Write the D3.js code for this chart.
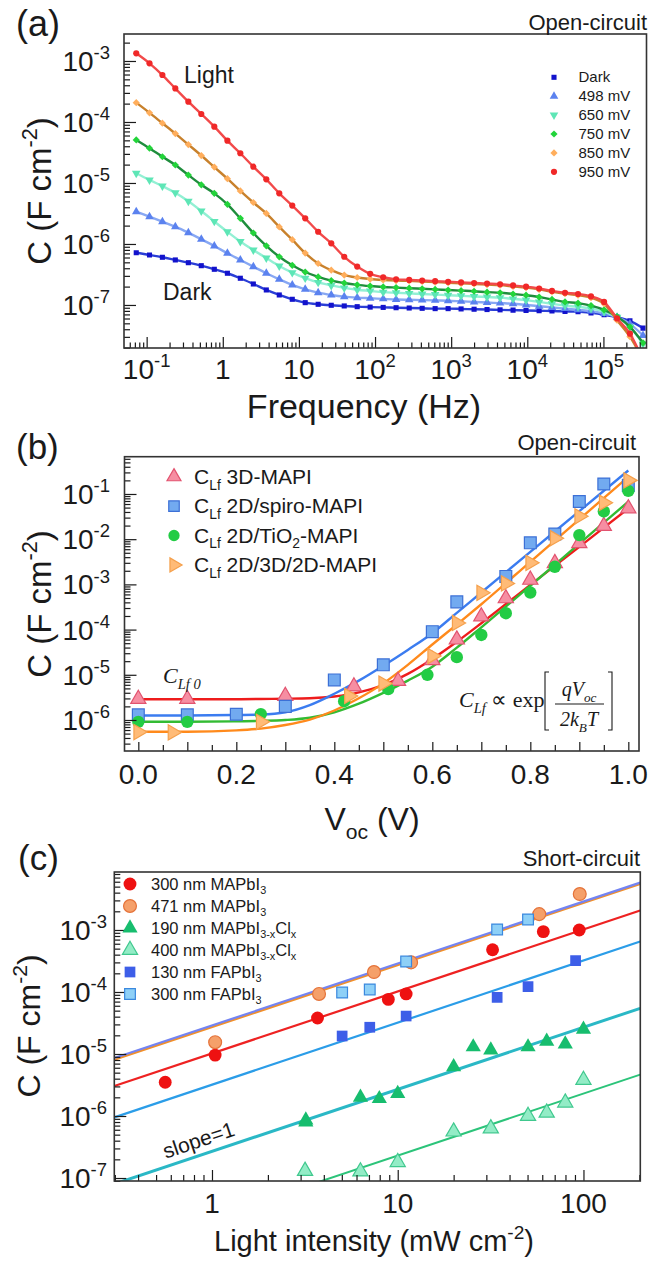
<!DOCTYPE html>
<html>
<head>
<meta charset="utf-8">
<script src="https://cdn.jsdelivr.net/npm/d3@7"></script>
<style>
  body { margin: 0; background: #fff; }
  svg { display: block; }
</style>
</head>
<body>
<svg id="chart" width="648" height="1263"></svg>
<script>
// ---------- panel (a): capacitance spectra, open circuit ----------
const freqHz = [0.073, 0.109, 0.161, 0.238, 0.353, 0.522, 0.774, 1.15, 1.70, 2.52,
  3.73, 5.52, 8.18, 12.1, 17.9, 26.6, 39.4, 58.3, 86.3, 128,
  189, 281, 416, 616, 912, 1350, 2000, 2960, 4390, 6500,
  9630, 14300, 21100, 31300, 46400, 68700, 102000, 151000, 223000, 331000];

// log10 of C (F cm-2)
const logC_dark = [-6.143, -6.180, -6.218, -6.262, -6.307, -6.356, -6.415, -6.480, -6.562, -6.656,
  -6.754, -6.836, -6.907, -6.962, -6.989, -7.005, -7.016, -7.028, -7.035, -7.040,
  -7.045, -7.050, -7.055, -7.060, -7.060, -7.065, -7.070, -7.075, -7.080, -7.085,
  -7.090, -7.095, -7.100, -7.105, -7.110, -7.130, -7.160, -7.200, -7.260, -7.380];
const logC_498 = [-5.470, -5.552, -5.634, -5.716, -5.815, -5.923, -6.033, -6.153, -6.262, -6.372,
  -6.480, -6.579, -6.672, -6.743, -6.798, -6.836, -6.864, -6.880, -6.890, -6.900,
  -6.910, -6.915, -6.920, -6.925, -6.930, -6.940, -6.950, -6.960, -6.970, -6.980,
  -7.000, -7.020, -7.040, -7.060, -7.080, -7.100, -7.140, -7.200, -7.310, -7.500];
const logC_650 = [-4.841, -4.950, -5.050, -5.160, -5.300, -5.460, -5.630, -5.800, -5.960, -6.100,
  -6.230, -6.360, -6.470, -6.560, -6.630, -6.680, -6.720, -6.750, -6.770, -6.790,
  -6.800, -6.810, -6.820, -6.830, -6.840, -6.850, -6.860, -6.870, -6.880, -6.900,
  -6.920, -6.950, -6.980, -7.010, -7.030, -7.060, -7.110, -7.200, -7.360, -7.640];
const logC_750 = [-4.295, -4.430, -4.570, -4.705, -4.870, -5.030, -5.170, -5.350, -5.580, -5.820,
  -6.030, -6.210, -6.350, -6.460, -6.540, -6.600, -6.640, -6.670, -6.690, -6.705,
  -6.715, -6.725, -6.735, -6.745, -6.755, -6.765, -6.775, -6.790, -6.800, -6.820,
  -6.840, -6.870, -6.910, -6.950, -6.970, -7.010, -7.080, -7.190, -7.360, -7.620];
const logC_850 = [-3.683, -3.850, -4.020, -4.190, -4.370, -4.550, -4.740, -4.930, -5.130, -5.320,
  -5.500, -5.720, -5.930, -6.150, -6.320, -6.430, -6.510, -6.550, -6.575, -6.590,
  -6.600, -6.605, -6.615, -6.625, -6.635, -6.645, -6.655, -6.665, -6.675, -6.695,
  -6.715, -6.745, -6.785, -6.815, -6.840, -6.880, -6.980, -7.250, -7.520, -7.900];
const logC_950 = [-2.874, -3.038, -3.230, -3.450, -3.667, -3.869, -4.077, -4.307, -4.513, -4.733,
  -4.940, -5.169, -5.370, -5.579, -5.800, -5.990, -6.210, -6.370, -6.490, -6.546,
  -6.580, -6.590, -6.600, -6.610, -6.620, -6.630, -6.640, -6.650, -6.660, -6.680,
  -6.700, -6.730, -6.770, -6.800, -6.820, -6.860, -6.950, -7.220, -7.470, -7.900];
const labelsA = ['Dark', '498 mV', '650 mV', '750 mV', '850 mV', '950 mV'];
const ticksA_x = [-1, 0, 1, 2, 3, 4, 5];     // decades
const ticksA_y = [-3, -4, -5, -6, -7];

// ---------- panel (b): low-frequency C vs Voc ----------
const vRed = [0, 0.1, 0.3, 0.44, 0.53, 0.6, 0.65, 0.7, 0.75, 0.8, 0.85, 0.9, 0.95, 1.0];
const cRed = [2.9e-6, 2.9e-6, 3.4e-6, 5.5e-6, 7.3e-6, 2.1e-5, 6.0e-5, 1.95e-4, 4.9e-4, 1.26e-3, 2.95e-3, 8.1e-3, 1.95e-2, 4.8e-2];
const vBlue = [0, 0.1, 0.2, 0.3, 0.4, 0.5, 0.6, 0.65, 0.75, 0.8, 0.85, 0.9, 0.95, 1.0];
const cBlue = [1.3e-6, 1.3e-6, 1.34e-6, 2.0e-6, 7.7e-6, 1.66e-5, 9.0e-5, 4.1e-4, 1.5e-3, 8.3e-3, 1.3e-2, 6.8e-2, 1.66e-1, 1.55e-1];
const vGreen = [0, 0.1, 0.25, 0.42, 0.51, 0.59, 0.65, 0.7, 0.75, 0.8, 0.85, 0.9, 0.95, 1.0];
const cGreen = [9.1e-7, 9.1e-7, 1.35e-6, 2.6e-6, 4.8e-6, 1.0e-5, 2.45e-5, 7.6e-5, 2.3e-4, 6.6e-4, 2.45e-3, 1.23e-2, 4.1e-2, 1.17e-1];
const vOrange = [0, 0.07, 0.25, 0.43, 0.5, 0.6, 0.65, 0.7, 0.75, 0.8, 0.85, 0.9, 0.95, 1.0];
const cOrange = [5.4e-7, 5.3e-7, 9.1e-7, 3.4e-6, 6.4e-6, 2.6e-5, 1.4e-4, 6.5e-4, 1.05e-3, 3.0e-3, 1.05e-2, 3.2e-2, 6.4e-2, 2.0e-1];
// fitted curves, log10 C read at these voltages
const vFit = [0, 0.1, 0.2, 0.25, 0.3, 0.35, 0.4, 0.45, 0.5, 0.55, 0.6, 0.65, 0.7, 0.8, 0.9, 1.0];
const logFitRed = [-5.54, -5.54, -5.54, -5.535, -5.53, -5.52, -5.48, -5.39, -5.23, -4.98, -4.65, -4.27, -3.86, -3.01, -2.17, -1.32];
const logFitBlue = [-5.90, -5.90, -5.89, -5.88, -5.83, -5.67, -5.42, -5.13, -4.80, -4.45, -4.08, -3.63, -3.18, -2.28, -1.38, -0.48];
const logFitGreen = [-6.04, -6.04, -6.03, -6.02, -6.00, -5.95, -5.83, -5.64, -5.40, -5.13, -4.82, -4.40, -3.95, -3.03, -2.10, -1.17];
const logFitOrange = [-6.26, -6.26, -6.23, -6.19, -6.11, -5.99, -5.79, -5.52, -5.19, -4.78, -4.33, -3.89, -3.44, -2.50, -1.56, -0.62];
const ticksB_x = [0, 0.2, 0.4, 0.6, 0.8, 1.0];
const ticksB_y = [-1, -2, -3, -4, -5, -6];

// ---------- panel (c): C vs light intensity, short circuit ----------
const L300MA = [0.56, 1.04, 3.7, 8.9, 11.1, 32.4, 60.8, 94.9];
const C300MA = [3.5e-6, 9.6e-6, 3.8e-5, 7.6e-5, 9.3e-5, 4.8e-4, 9.4e-4, 1.0e-3];
const L471MA = [1.04, 3.77, 7.45, 11.8, 57.8, 95.5];
const C471MA = [1.55e-5, 9.3e-5, 2.1e-4, 3.0e-4, 1.8e-3, 3.8e-3];
const L190MC = [3.2, 3.2, 6.3, 7.96, 10, 20, 25.5, 31.7, 50.3, 63.4, 79.8, 100];
const C190MC = [8.6e-7, 8.0e-7, 2.0e-6, 1.9e-6, 2.3e-6, 6.2e-6, 1.3e-5, 1.16e-5, 1.3e-5, 1.6e-5, 1.45e-5, 2.5e-5];
const L400MC = [3.17, 6.3, 10, 20, 31.7, 50.3, 63.4, 79.8, 100];
const C400MC = [1.3e-7, 1.27e-7, 1.8e-7, 5.6e-7, 6.3e-7, 1.0e-6, 1.13e-6, 1.64e-6, 3.8e-6];
const L130FA = [5.02, 7.07, 11.1, 34.3, 50.3, 90.7];
const C130FA = [1.95e-5, 2.7e-5, 4.1e-5, 8.2e-5, 1.22e-4, 3.2e-4];
const L300FA = [5.02, 7.07, 11.1, 34.3, 50.3];
const C300FA = [9.8e-5, 1.1e-4, 3.1e-4, 1.02e-3, 1.48e-3];
// slope = 1 fit lines, end points [L, C]
const fit300MA = [[0.298, 3.04e-6], [202, 2.06e-3]];
const fit471MA = [[0.298, 8.1e-6], [202, 5.5e-3]];
const fit300FA = [[0.298, 8.6e-6], [202, 5.8e-3]];
const fit130FA = [[0.298, 9.5e-7], [202, 6.5e-4]];
const fit190MC = [[0.298, 8.0e-8], [202, 5.45e-5]];
const fit400MC = [[3.0, 6.9e-8], [202, 4.65e-6]];
const ticksC_x = [1, 10, 100];
const ticksC_y = [-3, -4, -5, -6, -7];

// ---------------------------------------------------------------
const SANS = '"Liberation Sans", Arial, Helvetica, sans-serif';
const SERIF = '"Liberation Serif", "Times New Roman", serif';
const INK = '#1a1a1a';
const svg = d3.select('#chart');
const defs = svg.append('defs');

// text with sub / superscripts
function rich(g, x, y, parts, o) {
  const size = o.size;
  const t = g.append('text')
    .attr('x', x).attr('y', y)
    .attr('font-family', o.family || SANS)
    .attr('font-size', size)
    .attr('text-anchor', o.anchor || 'start')
    .attr('fill', INK);
  if (o.italic) t.attr('font-style', 'italic');
  if (o.transform) t.attr('transform', o.transform);
  let shift = 0;
  parts.forEach(p => {
    const [s, kind, style] = Array.isArray(p) ? p : [p];
    const off = kind === 'sup' ? -0.42 * size : kind === 'sub' ? 0.28 * size : 0;
    const ts = t.append('tspan').attr('dy', off - shift).text(s);
    if (kind) ts.attr('font-size', size * 0.66);
    if (style) ts.attr('font-style', style);
    shift = off;
  });
  return t;
}

function logValues(scale) {
  const d = scale.domain();
  const lo = Math.min(d[0], d[1]), hi = Math.max(d[0], d[1]);
  const major = [], minor = [];
  for (let e = Math.floor(Math.log10(lo)); e <= Math.ceil(Math.log10(hi)); e++) {
    for (let k = 1; k <= 9; k++) {
      const v = k * Math.pow(10, e);
      if (v >= lo && v <= hi) (k === 1 ? major : minor).push(v);
    }
  }
  return { major, minor };
}

function tickSet(g, axisFn, scale, values, size, tr) {
  g.append('g').attr('transform', tr)
    .call(axisFn(scale).tickValues(values).tickSize(size).tickFormat(''))
    .call(a => a.select('.domain').remove())
    .selectAll('line').attr('stroke', INK).attr('stroke-width', 1.2);
}

function frame(g, P) {
  g.append('rect')
    .attr('x', P.x0).attr('y', P.y0)
    .attr('width', P.x1 - P.x0).attr('height', P.y1 - P.y0)
    .attr('fill', 'none').attr('stroke', '#333').attr('stroke-width', 1.6);
}

function clip(id, P) {
  defs.append('clipPath').attr('id', id).append('rect')
    .attr('x', P.x0).attr('y', P.y0).attr('width', P.x1 - P.x0).attr('height', P.y1 - P.y0);
  return 'url(#' + id + ')';
}

function marker(type, size, rot) {
  const path = d3.symbol().type(type).size(size)();
  return { path, rot: rot || 0 };
}

function drawMarks(g, pts, x, y, m, fill, stroke, sw) {
  g.append('g').selectAll('path').data(pts).join('path')
    .attr('d', m.path)
    .attr('transform', d => `translate(${x(d[0])},${y(d[1])}) rotate(${m.rot})`)
    .attr('fill', fill)
    .attr('stroke', stroke || 'none')
    .attr('stroke-width', sw || 0);
}

const decadeParts = e => e === 0 ? ['1'] : e === 1 ? ['10'] : ['10', [String(e), 'sup']];

// =============================== (a) ===============================
{
  const P = { x0: 124, x1: 646.5, y0: 34, y1: 348 };
  const x = d3.scaleLog().domain([0.0504, 3.68e5]).range([P.x0, P.x1]);
  const y = d3.scaleLog().domain([1.97e-8, 2.77e-3]).range([P.y1, P.y0]);
  const g = svg.append('g');

  const series = [
    { vals: logC_dark, fill: '#1212cc', line: '#2a3ed6', m: marker(d3.symbolSquare, 26) },
    { vals: logC_498, fill: '#5b82ef', line: '#88a8f3', m: marker(d3.symbolTriangle, 32) },
    { vals: logC_650, fill: '#5ee6b6', line: '#93f0d4', m: marker(d3.symbolTriangle, 32, 180) },
    { vals: logC_750, fill: '#22d43a', line: '#1f8d3d', m: marker(d3.symbolSquare, 26, 45) },
    { vals: logC_850, fill: '#ffae5c', line: '#c8812c', m: marker(d3.symbolSquare, 26, 45) },
    { vals: logC_950, fill: '#f02828', line: '#f24a4a', m: marker(d3.symbolCircle, 30) }
  ];

  const plot = g.append('g').attr('clip-path', clip('clipA', P));
  const line = d3.line().x(d => x(d[0])).y(d => y(d[1])).curve(d3.curveMonotoneX);
  series.forEach(s => {
    const pts = freqHz.map((f, i) => [f, Math.pow(10, s.vals[i])]);
    plot.append('path').datum(pts).attr('d', line)
      .attr('fill', 'none').attr('stroke', s.line).attr('stroke-width', 2.4);
    drawMarks(plot, pts, x, y, s.m, s.fill);
  });

  const ly = logValues(y), lx = logValues(x);
  tickSet(g, d3.axisLeft, y, ly.major, -12, `translate(${P.x0},0)`);
  tickSet(g, d3.axisLeft, y, ly.minor, -6, `translate(${P.x0},0)`);
  tickSet(g, d3.axisBottom, x, lx.major, -11, `translate(0,${P.y1})`);
  tickSet(g, d3.axisBottom, x, lx.minor, -5.5, `translate(0,${P.y1})`);
  frame(g, P);

  ticksA_y.forEach(e => rich(g, 110, y(Math.pow(10, e)) + 10, decadeParts(e), { size: 28, anchor: 'end' }));
  ticksA_x.forEach(e => rich(g, x(Math.pow(10, e)), 379, decadeParts(e), { size: 28, anchor: 'middle' }));

  rich(g, 0, 0, ['C (F cm', ['-2', 'sup'], ')'], { size: 33, anchor: 'middle', transform: 'translate(51,191) rotate(-90)' });
  rich(g, 364, 418, ['Frequency (Hz)'], { size: 34, anchor: 'middle' });
  rich(g, 16, 36, ['(a)'], { size: 36 });
  rich(g, 647, 30, ['Open-circuit'], { size: 22, anchor: 'end' });
  rich(g, 184, 83, ['Light'], { size: 23 });
  rich(g, 163, 300, ['Dark'], { size: 23 });

  // legend
  series.forEach((s, i) => {
    const ry = 77.3 + i * 18.9;
    g.append('path').attr('d', s.m.path)
      .attr('transform', `translate(554,${ry}) rotate(${s.m.rot})`).attr('fill', s.fill);
    rich(g, 578.5, ry + 5, [labelsA[i]], { size: 15 });
  });
}

// =============================== (b) ===============================
{
  const P = { x0: 124.5, x1: 639, y0: 456.7, y1: 751 };
  const x = d3.scaleLinear().domain([-0.0282, 1.0218]).range([P.x0, P.x1]);
  const y = d3.scaleLog().domain([2.06e-7, 0.668]).range([P.y1, P.y0]);
  const g = svg.append('g');
  const plot = g.append('g').attr('clip-path', clip('clipB', P));
  const line = d3.line().x(d => x(d[0])).y(d => y(d[1])).curve(d3.curveMonotoneX);

  const series = [
    { v: vRed, c: cRed, fit: logFitRed, line: '#ee1c1c', fill: '#f68ea2', stroke: '#e2536f', m: marker(d3.symbolTriangle, 100), lm: marker(d3.symbolTriangle, 85),
      label: ['C', ['Lf', 'sub'], ' 3D-MAPI'] },
    { v: vBlue, c: cBlue, fit: logFitBlue, line: '#3b7cf0', fill: '#72aaf0', stroke: '#3c70d6', m: marker(d3.symbolSquare, 140), lm: marker(d3.symbolSquare, 110),
      label: ['C', ['Lf', 'sub'], ' 2D/spiro-MAPI'] },
    { v: vGreen, c: cGreen, fit: logFitGreen, line: '#33bb33', fill: '#22cc44', stroke: null, m: marker(d3.symbolCircle, 120), lm: marker(d3.symbolCircle, 100),
      label: ['C', ['Lf', 'sub'], ' 2D/TiO', ['2', 'sub'], '-MAPI'] },
    { v: vOrange, c: cOrange, fit: logFitOrange, line: '#ff8a1c', fill: '#ffbb77', stroke: '#f5a04c', m: marker(d3.symbolTriangle, 100, 90), lm: marker(d3.symbolTriangle, 85, 90),
      label: ['C', ['Lf', 'sub'], ' 2D/3D/2D-MAPI'] }
  ];

  series.forEach(s => {
    const pts = vFit.map((v, i) => [v, Math.pow(10, s.fit[i])]);
    plot.append('path').datum(pts).attr('d', line)
      .attr('fill', 'none').attr('stroke', s.line).attr('stroke-width', 2.4);
  });
  series.forEach(s => {
    const pts = s.v.map((v, i) => [v, s.c[i]]);
    drawMarks(plot, pts, x, y, s.m, s.fill, s.stroke, 1.2);
  });

  const ly = logValues(y);
  const xMajor = d3.range(0, 1.001, 0.1).map(v => +v.toFixed(2));
  const xMinor = d3.range(0.05, 1.001, 0.1).map(v => +v.toFixed(2));
  tickSet(g, d3.axisLeft, y, ly.major, -12, `translate(${P.x0},0)`);
  tickSet(g, d3.axisLeft, y, ly.minor, -6, `translate(${P.x0},0)`);
  tickSet(g, d3.axisBottom, x, xMajor, -9, `translate(0,${P.y1})`);
  tickSet(g, d3.axisBottom, x, xMinor, -6, `translate(0,${P.y1})`);
  frame(g, P);

  ticksB_y.forEach(e => rich(g, 110, y(Math.pow(10, e)) + 10, decadeParts(e), { size: 28, anchor: 'end' }));
  ticksB_x.forEach(v => rich(g, x(v), 784, [v.toFixed(1)], { size: 28, anchor: 'middle' }));

  rich(g, 0, 0, ['C (F cm', ['-2', 'sup'], ')'], { size: 33, anchor: 'middle', transform: 'translate(51,604) rotate(-90)' });
  rich(g, 372, 830, ['V', ['oc', 'sub'], ' (V)'], { size: 32, anchor: 'middle' });
  rich(g, 16, 459, ['(b)'], { size: 35 });
  rich(g, 636, 450, ['Open-circuit'], { size: 22, anchor: 'end' });

  series.forEach((s, i) => {
    const ry = 476.7 + i * 29.4;
    g.append('path').attr('d', s.lm.path)
      .attr('transform', `translate(174,${ry}) rotate(${s.lm.rot})`)
      .attr('fill', s.fill).attr('stroke', s.stroke || 'none').attr('stroke-width', 1.2);
    rich(g, 194, ry + 7, s.label, { size: 21 });
  });

  // annotations
  rich(g, 163, 683, ['C', ['Lf 0', 'sub']], { size: 22, family: SERIF, italic: true });
  rich(g, 459, 707, ['C', ['Lf', 'sub'], [' \u221D exp', null, 'normal']], { size: 22, family: SERIF, italic: true });
  const br = d3.path();
  br.moveTo(549, 672); br.lineTo(545, 672); br.lineTo(545, 730); br.lineTo(549, 730);
  br.moveTo(608, 672); br.lineTo(612, 672); br.lineTo(612, 730); br.lineTo(608, 730);
  br.moveTo(555, 704); br.lineTo(604, 704);
  g.append('path').attr('d', br.toString()).attr('fill', 'none').attr('stroke', INK).attr('stroke-width', 1.1);
  rich(g, 579, 696, ['qV', ['oc', 'sub']], { size: 20, family: SERIF, italic: true, anchor: 'middle' });
  rich(g, 579, 726, ['2k', ['B', 'sub'], 'T'], { size: 20, family: SERIF, italic: true, anchor: 'middle' });
}

// =============================== (c) ===============================
{
  const P = { x0: 114.3, x1: 640.3, y0: 872, y1: 1181 };
  const x = d3.scaleLog().domain([0.2979, 202.3]).range([P.x0, P.x1]);
  const y = d3.scaleLog().domain([8.95e-8, 8.61e-3]).range([P.y1, P.y0]);
  const g = svg.append('g');
  const plot = g.append('g').attr('clip-path', clip('clipC', P));
  const line = d3.line().x(d => x(d[0])).y(d => y(d[1]));

  const series = [
    { L: L300MA, C: C300MA, fit: fit300MA, line: '#ee2222', lw: 2.2, fill: '#ee1111', stroke: null, m: marker(d3.symbolCircle, 130),
      label: ['300 nm MAPbI', ['3', 'sub']] },
    { L: L471MA, C: C471MA, fit: fit471MA, line: '#f2902a', lw: 2.2, fill: '#f5a06a', stroke: '#e5733a', m: marker(d3.symbolCircle, 130),
      label: ['471 nm MAPbI', ['3', 'sub']] },
    { L: L190MC, C: C190MC, fit: fit190MC, line: '#2ab8c6', lw: 3, fill: '#17bd6e', stroke: null, m: marker(d3.symbolTriangle, 100),
      label: ['190 nm MAPbI', ['3-x', 'sub'], 'Cl', ['x', 'sub']] },
    { L: L400MC, C: C400MC, fit: fit400MC, line: '#2cc47a', lw: 2, fill: '#93ecc6', stroke: '#40c88e', m: marker(d3.symbolTriangle, 100),
      label: ['400 nm MAPbI', ['3-x', 'sub'], 'Cl', ['x', 'sub']] },
    { L: L130FA, C: C130FA, fit: fit130FA, line: '#2b9de8', lw: 2.2, fill: '#3d5ee8', stroke: null, m: marker(d3.symbolSquare, 115),
      label: ['130 nm FAPbI', ['3', 'sub']] },
    { L: L300FA, C: C300FA, fit: fit300FA, line: '#7384f2', lw: 2.2, fill: '#8ed0f7', stroke: '#3a88de', m: marker(d3.symbolSquare, 115),
      label: ['300 nm FAPbI', ['3', 'sub']] }
  ];

  series.forEach(s => {
    plot.append('path').datum(s.fit).attr('d', line)
      .attr('fill', 'none').attr('stroke', s.line).attr('stroke-width', s.lw);
  });
  series.forEach(s => {
    const pts = s.L.map((l, i) => [l, s.C[i]]);
    drawMarks(plot, pts, x, y, s.m, s.fill, s.stroke, 1.2);
  });

  const ly = logValues(y), lx = logValues(x);
  tickSet(g, d3.axisLeft, y, ly.major, -12, `translate(${P.x0},0)`);
  tickSet(g, d3.axisLeft, y, ly.minor, -6, `translate(${P.x0},0)`);
  tickSet(g, d3.axisBottom, x, lx.major, -11, `translate(0,${P.y1})`);
  tickSet(g, d3.axisBottom, x, lx.minor, -6, `translate(0,${P.y1})`);
  frame(g, P);

  ticksC_y.forEach(e => rich(g, 107, y(Math.pow(10, e)) + 10, decadeParts(e), { size: 28, anchor: 'end' }));
  ticksC_x.forEach(v => rich(g, x(v), 1213, [String(v)], { size: 28, anchor: 'middle' }));

  rich(g, 0, 0, ['C (F cm', ['-2', 'sup'], ')'], { size: 32, anchor: 'middle', transform: 'translate(40,1026) rotate(-90)' });
  rich(g, 374, 1251, ['Light intensity (mW cm', ['-2', 'sup'], ')'], { size: 29, anchor: 'middle' });
  rich(g, 18, 870, ['(c)'], { size: 35 });
  rich(g, 640, 866, ['Short-circuit'], { size: 22, anchor: 'end' });
  rich(g, 0, 0, ['slope=1'], { size: 21, anchor: 'middle', transform: 'translate(201,1147) rotate(-18.5)' });

  series.forEach((s, i) => {
    const ry = 884 + i * 22;
    g.append('path').attr('d', s.m.path)
      .attr('transform', `translate(130,${ry}) rotate(${s.m.rot})`)
      .attr('fill', s.fill).attr('stroke', s.stroke || 'none').attr('stroke-width', 1.2);
    rich(g, 151, ry + 5.5, s.label, { size: 16.5 });
  });
}
</script>
</body>
</html>
